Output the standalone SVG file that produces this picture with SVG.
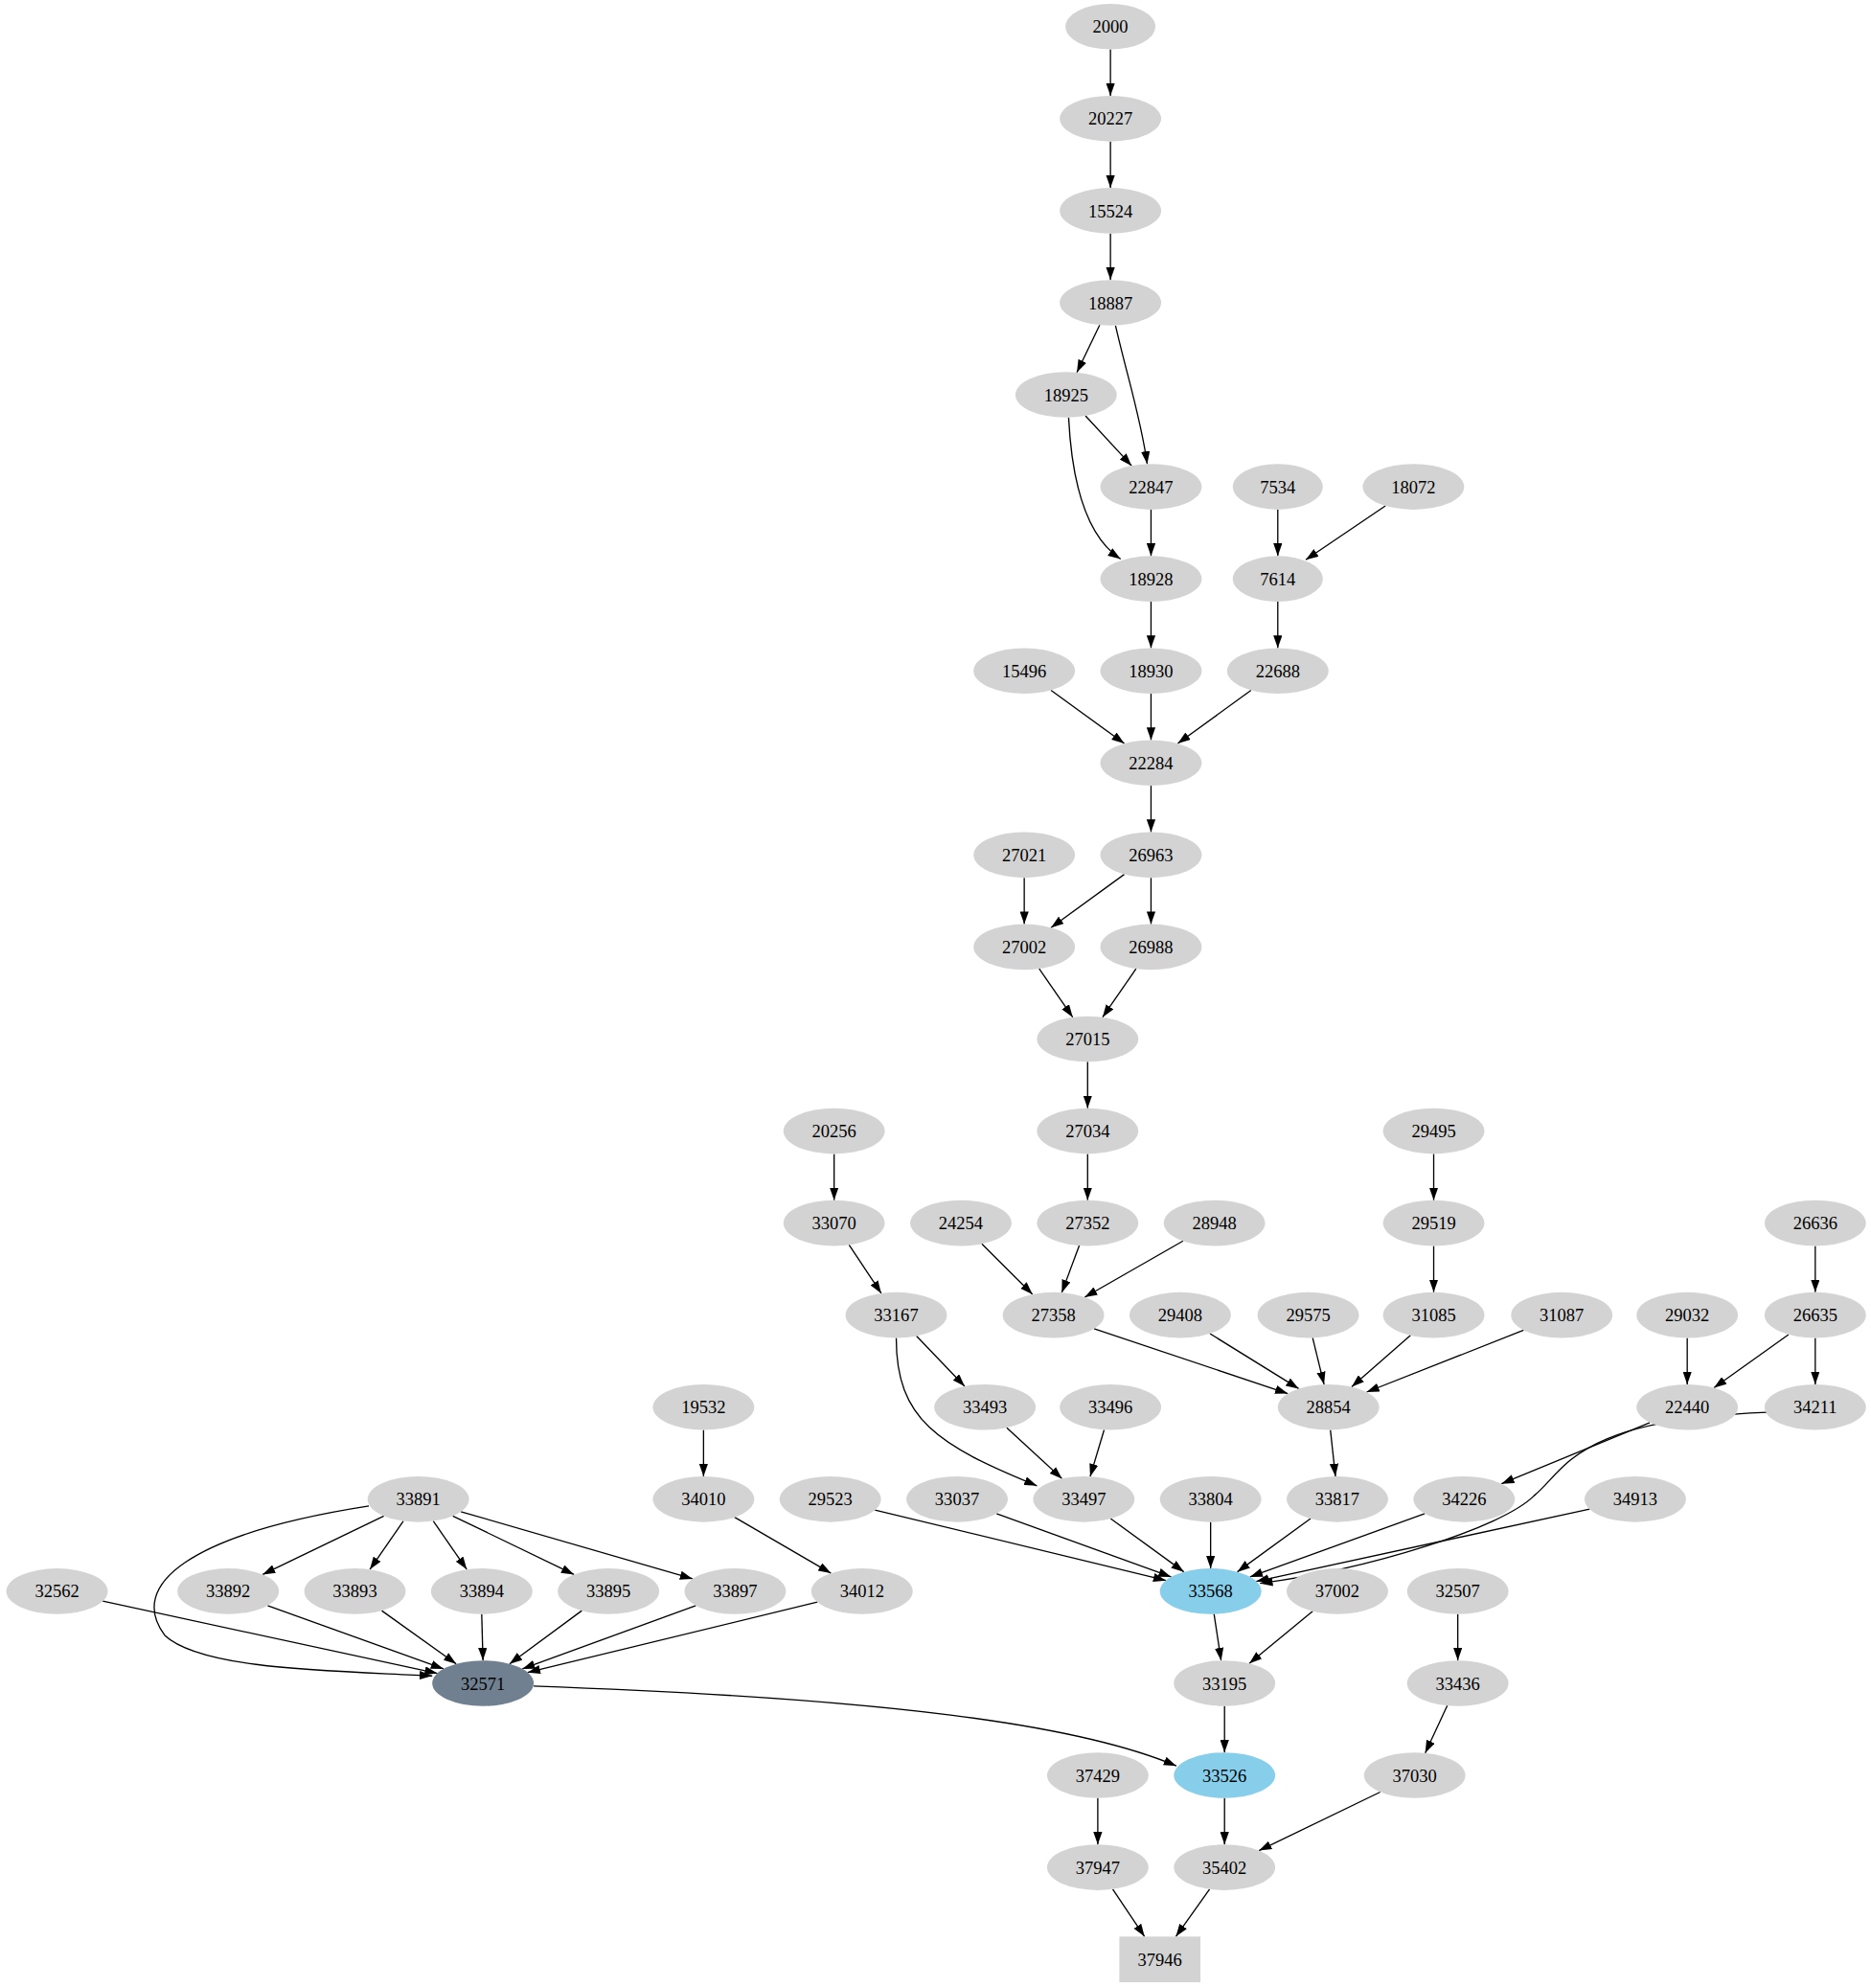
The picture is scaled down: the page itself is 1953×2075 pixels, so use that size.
<svg xmlns="http://www.w3.org/2000/svg" width="1953" height="2075" viewBox="0 0 1953 2075">
<style>
.n ellipse,.n rect{fill:#d3d3d3}
.n text{font-family:"Liberation Serif","DejaVu Serif",serif;font-size:14px;text-anchor:middle;fill:#000}
#e path{fill:none;stroke:#000;stroke-width:1;marker-end:url(#a)}
</style>
<defs><marker id="a" viewBox="0 0 10 7" refX="10" refY="3.5" markerWidth="10" markerHeight="7" orient="auto" markerUnits="userSpaceOnUse"><path d="M0,0L10,3.5L0,7Z" fill="#000"/></marker></defs>
<rect width="1953" height="2075" fill="#fff"/>
<g transform="scale(1.3232)">
<g id="e">
<path d="M876,39L876,75.6"/><path d="M876,111.6L876,148.2"/><path d="M876,184.2L876,220.8"/>
<path d="M867.5,256.4L849.5,293.8"/><path d="M880,256.8C890,300 900,330 905,366"/>
<path d="M856.3,328L892.7,367.4"/><path d="M843,329.4C846,390 860,425 884,441"/>
<path d="M908,402L908,438.6"/><path d="M1008,402L1008,438.6"/><path d="M1092.9,399L1030.1,441.6"/>
<path d="M908,474.6L908,511.2"/><path d="M1008,474.6L1008,511.2"/>
<path d="M829.1,544.5L886.9,586.5"/><path d="M908,547.2L908,583.8"/><path d="M986.9,544.5L929.1,586.5"/>
<path d="M908,619.8L908,656.4"/><path d="M808,692.4L808,729"/><path d="M886.9,689.7L829.1,731.7"/><path d="M908,692.4L908,729"/>
<path d="M819.8,764.2L846.2,802.4"/><path d="M896.2,764.2L869.8,802.4"/><path d="M858,837.6L858,874.2"/>
<path d="M658,910.2L658,946.8"/><path d="M858,910.2L858,946.8"/><path d="M1131,910.2L1131,946.8"/>
<path d="M669.8,982L695.2,1020.2"/><path d="M774.5,981.2L814.5,1021"/><path d="M851.4,982.5L837.6,1019.6"/><path d="M933.3,978.9L855.7,1023.3"/>
<path d="M1131,982.8L1131,1019.4"/><path d="M1432,982.8L1432,1019.4"/>
<path d="M863.1,1048.1L1015.9,1099.3"/><path d="M954.5,1052L1024.5,1095.4"/><path d="M1035.5,1055.3L1044.5,1092.1"/>
<path d="M1112.7,1053.4L1066.3,1094"/><path d="M1201.9,1049.3L1078.1,1098.1"/>
<path d="M1331,1055.4L1331,1092"/><path d="M1410.9,1052.7L1352.1,1094.7"/><path d="M1432,1055.4L1432,1092"/>
<path d="M723,1053.9L761,1093.5"/><path d="M707,1055.4C707,1120 740,1140 818,1172"/>
<path d="M871,1127.9L860,1164.7"/><path d="M794.2,1126.2L837.8,1166.4"/>
<path d="M1049.5,1128L1053.5,1164.6"/><path d="M1301.5,1122.2L1184.5,1170.4"/><path d="M555,1128L555,1164.6"/>
<path d="M1394,1114C1240,1120 1235,1160 1210,1180C1185,1205 1080,1238 994,1249"/>
<path d="M302.8,1195.8L207.2,1242"/><path d="M318.2,1199.8L291.8,1238"/><path d="M341.8,1199.8L368.2,1238"/>
<path d="M357.2,1195.8L452.8,1242"/><path d="M363.6,1192.4L546.4,1245.4"/>
<path d="M291,1188C150,1210 100,1250 130,1290C160,1318 270,1318 341,1322"/>
<path d="M579.5,1196.8L655.5,1241"/>
<path d="M81,1263L345,1320"/><path d="M211.1,1266.5L349.9,1316.5"/><path d="M301.1,1270.5L359.9,1312.5"/>
<path d="M380,1273.2L381,1309.8"/><path d="M459,1270.5L402,1312.5"/><path d="M548.9,1266.5L412.1,1316.5"/><path d="M644.8,1263.7L416.2,1319.3"/>
<path d="M690.2,1191.1L919.8,1246.7"/><path d="M786.1,1193.9L923.9,1243.9"/><path d="M876.1,1197.9L933.9,1239.9"/>
<path d="M955,1200.6L955,1237.2"/><path d="M1033.9,1197.9L976.1,1239.9"/><path d="M1123.9,1193.9L986.1,1243.9"/><path d="M1254,1190.4L991,1247.4"/>
<path d="M957.7,1273.2L963.3,1309.8"/><path d="M1035.5,1270.9L985.5,1312.1"/><path d="M1150,1273.2L1150,1309.8"/>
<path d="M966,1345.8L966,1382.4"/><path d="M1141.7,1345.4L1124.3,1382.8"/>
<path d="M421,1330C700,1340 850,1360 928,1393"/>
<path d="M866,1418.4L866,1455"/><path d="M966,1418.4L966,1455"/><path d="M1088.8,1413.6L993.2,1459.8"/>
<path d="M877.8,1490.2L902.9,1527.6"/><path d="M954.2,1490.2L927.6,1527.6"/>
</g>
<g class="n" id="n2000"><ellipse cx="876" cy="21" rx="35.5" ry="18"/><text x="876" y="26">2000</text></g>
<g class="n" id="n20227"><ellipse cx="876" cy="93.6" rx="40" ry="18"/><text x="876" y="98.6">20227</text></g>
<g class="n" id="n15524"><ellipse cx="876" cy="166.2" rx="40" ry="18"/><text x="876" y="171.2">15524</text></g>
<g class="n" id="n18887"><ellipse cx="876" cy="238.8" rx="40" ry="18"/><text x="876" y="243.8">18887</text></g>
<g class="n" id="n18925"><ellipse cx="841" cy="311.4" rx="40" ry="18"/><text x="841" y="316.4">18925</text></g>
<g class="n" id="n22847"><ellipse cx="908" cy="384" rx="40" ry="18"/><text x="908" y="389">22847</text></g>
<g class="n" id="n7534"><ellipse cx="1008" cy="384" rx="35.5" ry="18"/><text x="1008" y="389">7534</text></g>
<g class="n" id="n18072"><ellipse cx="1115" cy="384" rx="40" ry="18"/><text x="1115" y="389">18072</text></g>
<g class="n" id="n18928"><ellipse cx="908" cy="456.6" rx="40" ry="18"/><text x="908" y="461.6">18928</text></g>
<g class="n" id="n7614"><ellipse cx="1008" cy="456.6" rx="35.5" ry="18"/><text x="1008" y="461.6">7614</text></g>
<g class="n" id="n15496"><ellipse cx="808" cy="529.2" rx="40" ry="18"/><text x="808" y="534.2">15496</text></g>
<g class="n" id="n18930"><ellipse cx="908" cy="529.2" rx="40" ry="18"/><text x="908" y="534.2">18930</text></g>
<g class="n" id="n22688"><ellipse cx="1008" cy="529.2" rx="40" ry="18"/><text x="1008" y="534.2">22688</text></g>
<g class="n" id="n22284"><ellipse cx="908" cy="601.8" rx="40" ry="18"/><text x="908" y="606.8">22284</text></g>
<g class="n" id="n27021"><ellipse cx="808" cy="674.4" rx="40" ry="18"/><text x="808" y="679.4">27021</text></g>
<g class="n" id="n26963"><ellipse cx="908" cy="674.4" rx="40" ry="18"/><text x="908" y="679.4">26963</text></g>
<g class="n" id="n27002"><ellipse cx="808" cy="747" rx="40" ry="18"/><text x="808" y="752">27002</text></g>
<g class="n" id="n26988"><ellipse cx="908" cy="747" rx="40" ry="18"/><text x="908" y="752">26988</text></g>
<g class="n" id="n27015"><ellipse cx="858" cy="819.6" rx="40" ry="18"/><text x="858" y="824.6">27015</text></g>
<g class="n" id="n20256"><ellipse cx="658" cy="892.2" rx="40" ry="18"/><text x="658" y="897.2">20256</text></g>
<g class="n" id="n27034"><ellipse cx="858" cy="892.2" rx="40" ry="18"/><text x="858" y="897.2">27034</text></g>
<g class="n" id="n29495"><ellipse cx="1131" cy="892.2" rx="40" ry="18"/><text x="1131" y="897.2">29495</text></g>
<g class="n" id="n33070"><ellipse cx="658" cy="964.8" rx="40" ry="18"/><text x="658" y="969.8">33070</text></g>
<g class="n" id="n24254"><ellipse cx="758" cy="964.8" rx="40" ry="18"/><text x="758" y="969.8">24254</text></g>
<g class="n" id="n27352"><ellipse cx="858" cy="964.8" rx="40" ry="18"/><text x="858" y="969.8">27352</text></g>
<g class="n" id="n28948"><ellipse cx="958" cy="964.8" rx="40" ry="18"/><text x="958" y="969.8">28948</text></g>
<g class="n" id="n29519"><ellipse cx="1131" cy="964.8" rx="40" ry="18"/><text x="1131" y="969.8">29519</text></g>
<g class="n" id="n26636"><ellipse cx="1432" cy="964.8" rx="40" ry="18"/><text x="1432" y="969.8">26636</text></g>
<g class="n" id="n33167"><ellipse cx="707" cy="1037.4" rx="40" ry="18"/><text x="707" y="1042.4">33167</text></g>
<g class="n" id="n27358"><ellipse cx="831" cy="1037.4" rx="40" ry="18"/><text x="831" y="1042.4">27358</text></g>
<g class="n" id="n29408"><ellipse cx="931" cy="1037.4" rx="40" ry="18"/><text x="931" y="1042.4">29408</text></g>
<g class="n" id="n29575"><ellipse cx="1032" cy="1037.4" rx="40" ry="18"/><text x="1032" y="1042.4">29575</text></g>
<g class="n" id="n31085"><ellipse cx="1131" cy="1037.4" rx="40" ry="18"/><text x="1131" y="1042.4">31085</text></g>
<g class="n" id="n31087"><ellipse cx="1232" cy="1037.4" rx="40" ry="18"/><text x="1232" y="1042.4">31087</text></g>
<g class="n" id="n29032"><ellipse cx="1331" cy="1037.4" rx="40" ry="18"/><text x="1331" y="1042.4">29032</text></g>
<g class="n" id="n26635"><ellipse cx="1432" cy="1037.4" rx="40" ry="18"/><text x="1432" y="1042.4">26635</text></g>
<g class="n" id="n19532"><ellipse cx="555" cy="1110" rx="40" ry="18"/><text x="555" y="1115">19532</text></g>
<g class="n" id="n33493"><ellipse cx="777" cy="1110" rx="40" ry="18"/><text x="777" y="1115">33493</text></g>
<g class="n" id="n33496"><ellipse cx="876" cy="1110" rx="40" ry="18"/><text x="876" y="1115">33496</text></g>
<g class="n" id="n28854"><ellipse cx="1048" cy="1110" rx="40" ry="18"/><text x="1048" y="1115">28854</text></g>
<g class="n" id="n22440"><ellipse cx="1331" cy="1110" rx="40" ry="18"/><text x="1331" y="1115">22440</text></g>
<g class="n" id="n34211"><ellipse cx="1432" cy="1110" rx="40" ry="18"/><text x="1432" y="1115">34211</text></g>
<g class="n" id="n33891"><ellipse cx="330" cy="1182.6" rx="40" ry="18"/><text x="330" y="1187.6">33891</text></g>
<g class="n" id="n34010"><ellipse cx="555" cy="1182.6" rx="40" ry="18"/><text x="555" y="1187.6">34010</text></g>
<g class="n" id="n29523"><ellipse cx="655" cy="1182.6" rx="40" ry="18"/><text x="655" y="1187.6">29523</text></g>
<g class="n" id="n33037"><ellipse cx="755" cy="1182.6" rx="40" ry="18"/><text x="755" y="1187.6">33037</text></g>
<g class="n" id="n33497"><ellipse cx="855" cy="1182.6" rx="40" ry="18"/><text x="855" y="1187.6">33497</text></g>
<g class="n" id="n33804"><ellipse cx="955" cy="1182.6" rx="40" ry="18"/><text x="955" y="1187.6">33804</text></g>
<g class="n" id="n33817"><ellipse cx="1055" cy="1182.6" rx="40" ry="18"/><text x="1055" y="1187.6">33817</text></g>
<g class="n" id="n34226"><ellipse cx="1155" cy="1182.6" rx="40" ry="18"/><text x="1155" y="1187.6">34226</text></g>
<g class="n" id="n34913"><ellipse cx="1290" cy="1182.6" rx="40" ry="18"/><text x="1290" y="1187.6">34913</text></g>
<g class="n" id="n32562"><ellipse cx="45" cy="1255.2" rx="40" ry="18"/><text x="45" y="1260.2">32562</text></g>
<g class="n" id="n33892"><ellipse cx="180" cy="1255.2" rx="40" ry="18"/><text x="180" y="1260.2">33892</text></g>
<g class="n" id="n33893"><ellipse cx="280" cy="1255.2" rx="40" ry="18"/><text x="280" y="1260.2">33893</text></g>
<g class="n" id="n33894"><ellipse cx="380" cy="1255.2" rx="40" ry="18"/><text x="380" y="1260.2">33894</text></g>
<g class="n" id="n33895"><ellipse cx="480" cy="1255.2" rx="40" ry="18"/><text x="480" y="1260.2">33895</text></g>
<g class="n" id="n33897"><ellipse cx="580" cy="1255.2" rx="40" ry="18"/><text x="580" y="1260.2">33897</text></g>
<g class="n" id="n34012"><ellipse cx="680" cy="1255.2" rx="40" ry="18"/><text x="680" y="1260.2">34012</text></g>
<g class="n" id="n33568"><ellipse cx="955" cy="1255.2" rx="40" ry="18" style="fill:#87ceeb"/><text x="955" y="1260.2">33568</text></g>
<g class="n" id="n37002"><ellipse cx="1055" cy="1255.2" rx="40" ry="18"/><text x="1055" y="1260.2">37002</text></g>
<g class="n" id="n32507"><ellipse cx="1150" cy="1255.2" rx="40" ry="18"/><text x="1150" y="1260.2">32507</text></g>
<g class="n" id="n32571"><ellipse cx="381" cy="1327.8" rx="40" ry="18" style="fill:#708090"/><text x="381" y="1332.8">32571</text></g>
<g class="n" id="n33195"><ellipse cx="966" cy="1327.8" rx="40" ry="18"/><text x="966" y="1332.8">33195</text></g>
<g class="n" id="n33436"><ellipse cx="1150" cy="1327.8" rx="40" ry="18"/><text x="1150" y="1332.8">33436</text></g>
<g class="n" id="n37429"><ellipse cx="866" cy="1400.4" rx="40" ry="18"/><text x="866" y="1405.4">37429</text></g>
<g class="n" id="n33526"><ellipse cx="966" cy="1400.4" rx="40" ry="18" style="fill:#87ceeb"/><text x="966" y="1405.4">33526</text></g>
<g class="n" id="n37030"><ellipse cx="1116" cy="1400.4" rx="40" ry="18"/><text x="1116" y="1405.4">37030</text></g>
<g class="n" id="n37947"><ellipse cx="866" cy="1473" rx="40" ry="18"/><text x="866" y="1478">37947</text></g>
<g class="n" id="n35402"><ellipse cx="966" cy="1473" rx="40" ry="18"/><text x="966" y="1478">35402</text></g>
<g class="n" id="n37946"><rect x="883" y="1527.6" width="64" height="36"/><text x="915" y="1550.6">37946</text></g>
</g>
</svg>
